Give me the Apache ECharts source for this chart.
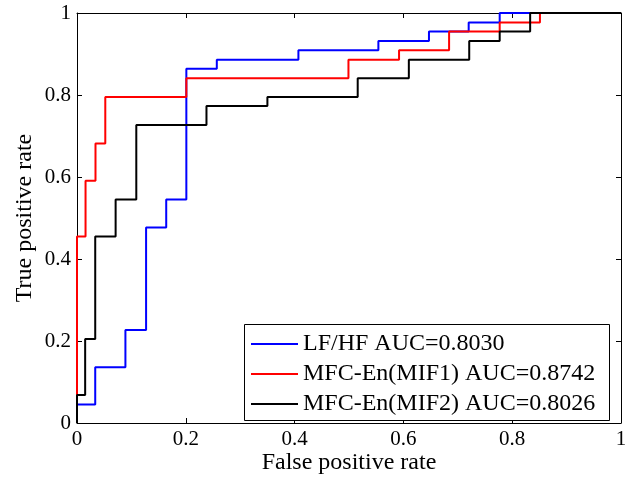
<!DOCTYPE html>
<html>
<head>
<meta charset="utf-8">
<script src="https://cdn.jsdelivr.net/npm/echarts@6/dist/echarts.min.js"></script>
<style>
html,body{margin:0;padding:0;background:#fff;}
#chart{width:635px;height:483px;}
</style>
</head>
<body>
<div id="chart"></div>
<script>
// ROC curve vertices (false positive rate, true positive rate)
var lfhfFpr = [0, 0, 0.0335, 0.089, 0.127, 0.164, 0.201, 0.257, 0.407, 0.554, 0.647, 0.720, 0.777, 1];
var lfhfTpr = [0, 0.045, 0.136, 0.227, 0.477, 0.545, 0.864, 0.886, 0.909, 0.932, 0.955, 0.977, 1, 1];

var mif1Fpr = [0, 0, 0.0157, 0.034, 0.052, 0.201, 0.499, 0.592, 0.684, 0.777, 0.851, 1];
var mif1Tpr = [0, 0.455, 0.591, 0.682, 0.795, 0.841, 0.886, 0.909, 0.955, 0.977, 1, 1];

var mif2Fpr = [0, 0, 0.015, 0.0335, 0.071, 0.109, 0.238, 0.350, 0.516, 0.610, 0.721, 0.777, 0.833, 1];
var mif2Tpr = [0, 0.068, 0.205, 0.455, 0.545, 0.727, 0.773, 0.795, 0.841, 0.886, 0.932, 0.955, 1, 1];

var seriesNames = ['LF/HF AUC=0.8030', 'MFC-En(MIF1) AUC=0.8742', 'MFC-En(MIF2) AUC=0.8026'];
var seriesColors = ['#0000ff', '#ff0000', '#000000'];
var xTitle = 'False positive rate';
var yTitle = 'True positive rate';

function pairs(xs, ys) {
  var out = [];
  for (var i = 0; i < xs.length; i++) out.push([xs[i], ys[i]]);
  return out;
}
var dataSets = [pairs(lfhfFpr, lfhfTpr), pairs(mif1Fpr, mif1Tpr), pairs(mif2Fpr, mif2Tpr)];

var FONT = '"Liberation Serif", "Times New Roman", serif';
var chart = echarts.init(document.getElementById('chart'), null, {renderer: 'canvas'});

function axisCommon(showLabel) {
  return {
    type: 'value', min: 0, max: 1, interval: 0.2,
    axisLine: {show: true, onZero: false, lineStyle: {color: '#000', width: 1}},
    axisTick: {show: true, inside: true, length: 5, lineStyle: {color: '#000', width: 1}},
    axisLabel: {show: showLabel, color: '#000', fontFamily: FONT, fontSize: 21, margin: 6},
    splitLine: {show: false}
  };
}

var xb = axisCommon(true); xb.position = 'bottom';
var xt = axisCommon(false); xt.position = 'top';
var yl = axisCommon(true); yl.position = 'left';
var yr = axisCommon(false); yr.position = 'right';

var series = dataSets.map(function (d, i) {
  return {
    name: seriesNames[i], type: 'line', step: 'end', data: d,
    xAxisIndex: 0, yAxisIndex: 0,
    symbol: 'none', silent: true, animation: false,
    lineStyle: {color: seriesColors[i], width: 2},
    itemStyle: {color: seriesColors[i]}
  };
});

chart.setOption({
  animation: false,
  backgroundColor: '#fff',
  grid: {left: 77, right: 14, top: 13, bottom: 60, containLabel: false},
  xAxis: [xb, xt],
  yAxis: [yl, yr],
  legend: {
    data: seriesNames, orient: 'vertical', left: 251, top: 332, padding: 0,
    icon: 'rect', itemWidth: 47, itemHeight: 2, itemGap: 6, z: 10,
    textStyle: {fontFamily: FONT, fontSize: 24, color: '#000', lineHeight: 20},
    selectedMode: false
  },
  graphic: [
    {type: 'rect', z: 5, shape: {x: 244.5, y: 324.5, width: 365, height: 96},
     style: {fill: '#fff', stroke: '#000', lineWidth: 1}},
    {type: 'text', z: 5, x: 349, y: 463,
     style: {text: xTitle, font: '24px ' + FONT, fill: '#000', textAlign: 'center', textVerticalAlign: 'middle'}},
    {type: 'text', z: 5, x: 25, y: 218, rotation: Math.PI / 2,
     style: {text: yTitle, font: '24px ' + FONT, fill: '#000', textAlign: 'center', textVerticalAlign: 'middle'}}
  ],
  series: series
});
</script>
</body>
</html>
